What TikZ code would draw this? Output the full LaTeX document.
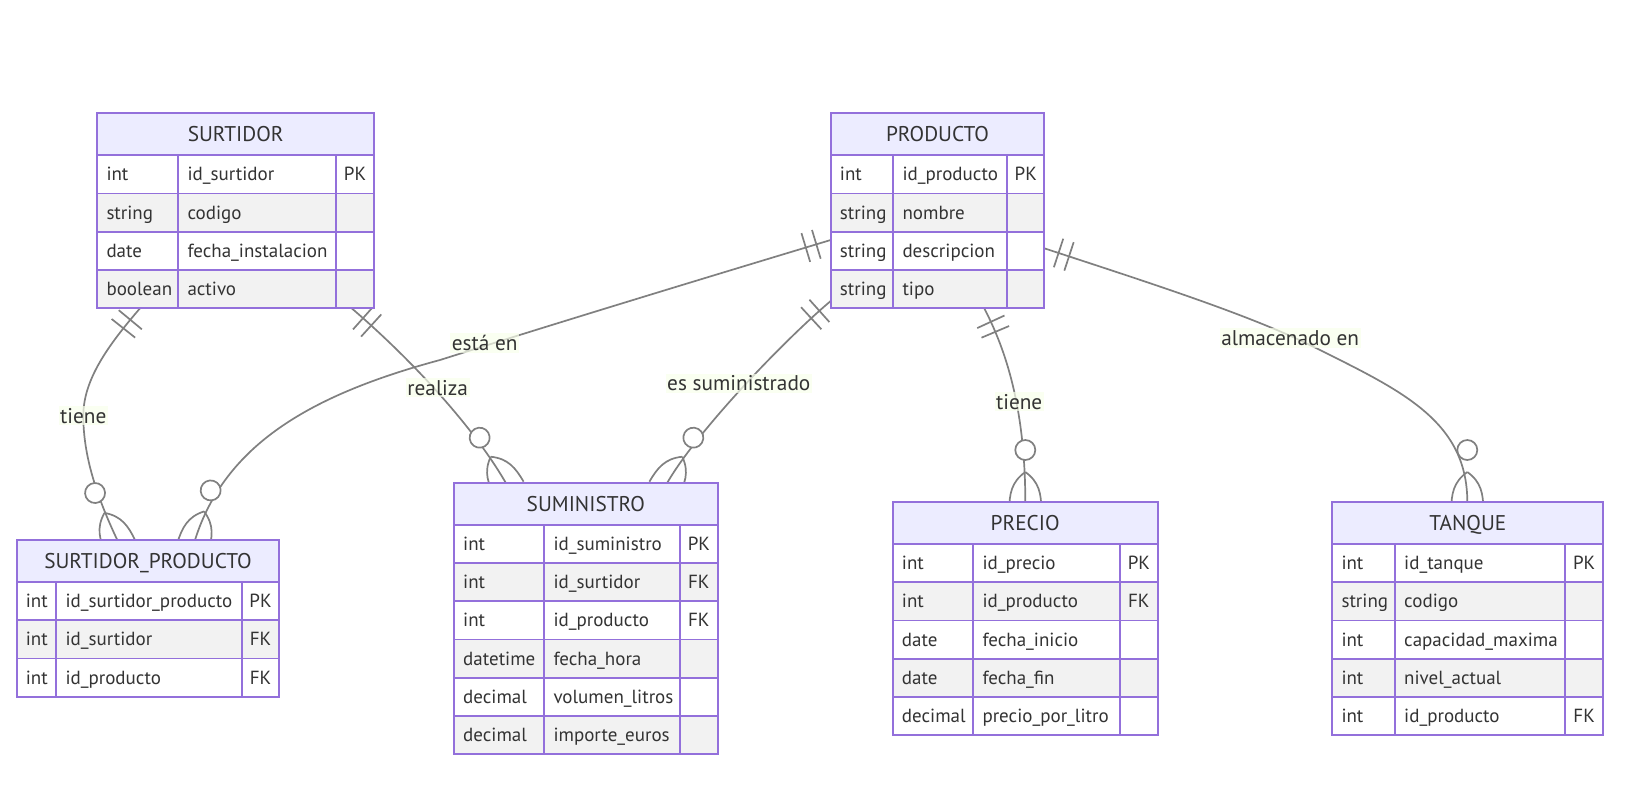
\documentclass[tikz,border=0pt]{standalone}
\usepackage{fontspec}
\setmainfont{PT Sans}
\usetikzlibrary{decorations.markings}

\definecolor{erborder}{HTML}{9370DB}
\definecolor{erhead}{HTML}{ECECFF}
\definecolor{errow}{HTML}{F2F2F2}
\definecolor{ertext}{HTML}{333333}
\definecolor{erline}{HTML}{808080}
\definecolor{erlabel}{RGB}{249,255,236}

\pgfdeclarelayer{bg}
\pgfdeclarelayer{edges}
\pgfsetlayers{bg,edges,main}

\tikzset{
  erfont/.style={font=\fontsize{19}{23}\selectfont, text=ertext},
  bigfont/.style={font=\fontsize{21.3}{25}\selectfont, text=ertext},
  tblbox/.style={draw=erborder, line width=1.8pt, inner sep=0pt, outer sep=0pt},
  tblline/.style={draw=erborder, line width=1.8pt},
  cell/.style={erfont, inner sep=0pt, anchor=base west},
  cellc/.style={erfont, inner sep=0pt, anchor=base},
  ttl/.style={bigfont, inner sep=0pt, anchor=base},
  lbl/.style={bigfont, fill=erlabel, fill opacity=0.7, text opacity=1,
              inner xsep=1.5pt, inner ysep=2pt},
  rel/.style={draw=erline, line width=1.7pt},
  mk/.style={draw=erline, line width=1.7pt},
  % exactly one: two bars near the start of the connector
  onlyone/.style={postaction={decorate, decoration={markings,
      mark=at position 15pt with {\draw[mk] (0pt,-15pt) -- (0pt,15pt);},
      mark=at position 26pt with {\draw[mk] (0pt,-15pt) -- (0pt,15pt);}}}},
  % zero or more: circle and crow's foot at the end of the connector
  zeromany/.style={postaction={decorate, decoration={markings,
      mark=at position 1 with {
        \draw[mk] (-30pt,0pt) .. controls (-20pt,14pt) and (-8pt,16pt) .. (8pt,16pt);
        \draw[mk] (-30pt,0pt) .. controls (-20pt,-14pt) and (-8pt,-16pt) .. (8pt,-16pt);
        \draw[mk, fill=white] (-52pt,0pt) circle[radius=10pt];
      }}}},
}

% entity table: name, x left, x col2, x col3, x right, y top, title, rows
\newcommand{\erentity}[8]{%
  \fill[erhead] (#2,#6) rectangle (#5,#6+42);
  \node[ttl] at (#2/2+#5/2,#6+28.3) {#7};
  \foreach \ta/\tb/\tc [count=\ri] in {#8} {%
    \pgfmathsetmacro\ya{#6+42+(\ri-1)*38.25}%
    \pgfmathsetmacro\yb{\ya+38.25}%
    \ifodd\ri\relax\def\rowcol{white}\else\def\rowcol{errow}\fi
    \fill[fill=\rowcol] (#2,\ya) rectangle (#5,\yb);
    \node[cell] at (#2+9,\ya+25.6) {\ta};
    \node[cell] at (#3+9,\ya+25.6) {\tb};
    \node[cellc] at (#4/2+#5/2,\ya+25.6) {\tc};
    \draw[tblline] (#2,\ya) -- (#5,\ya);
    \xdef\erbottom{\yb}%
  }
  \draw[tblline] (#3,#6+42) -- (#3,\erbottom);
  \draw[tblline] (#4,#6+42) -- (#4,\erbottom);
  \node[tblbox, minimum width={(#5-#2)*1pt}, minimum height={(\erbottom-#6)*1pt},
        anchor=north west] (#1) at (#2,#6) {};
}

\begin{document}
\begin{tikzpicture}[x=1pt, y=-1pt]
\begin{pgfonlayer}{bg}
  \fill[white] (0,0) rectangle (1626,804);
\end{pgfonlayer}
\useasboundingbox (0,0) rectangle (1626,804);

\erentity{surtidor}{97.3}{178.3}{336}{374}{113.3}{SURTIDOR}{%
  int/id\_surtidor/PK, string/codigo/{}, date/fecha\_instalacion/{}, boolean/activo/{}}
\erentity{producto}{830.7}{893.3}{1007.3}{1044.3}{113.3}{PRODUCTO}{%
  int/id\_producto/PK, string/nombre/{}, string/descripcion/{}, string/tipo/{}}
\erentity{surprod}{16.7}{56.3}{241.7}{279.3}{540}{SURTIDOR\_PRODUCTO}{%
  int/id\_surtidor\_producto/PK, int/id\_surtidor/FK, int/id\_producto/FK}
\erentity{suministro}{454}{544.3}{680}{717.7}{482.7}{SUMINISTRO}{%
  int/id\_suministro/PK, int/id\_surtidor/FK, int/id\_producto/FK,
  datetime/fecha\_hora/{}, decimal/volumen\_litros/{}, decimal/importe\_euros/{}}
\erentity{precio}{892.7}{973.3}{1120}{1157.7}{502}{PRECIO}{%
  int/id\_precio/PK, int/id\_producto/FK, date/fecha\_inicio/{},
  date/fecha\_fin/{}, decimal/precio\_por\_litro/{}}
\erentity{tanque}{1332.3}{1395}{1565}{1603.3}{502}{TANQUE}{%
  int/id\_tanque/PK, string/codigo/{}, int/capacidad\_maxima/{},
  int/nivel\_actual/{}, int/id\_producto/FK}

% relationship labels
\node[lbl] (ltiene1) at (83.3,415.8) {tiene};
\node[lbl] (lrealiza) at (437.7,387.7) {realiza};
\node[lbl] (lestaen) at (484.7,343) {está en};
\node[lbl] (lsumin) at (738.8,383.3) {es suministrado};
\node[lbl] (ltiene2) at (1019.2,401.7) {tiene};
\node[lbl] (lalmac) at (1290.2,338) {almacenado en};

\begin{pgfonlayer}{edges}
  % SURTIDOR tiene SURTIDOR_PRODUCTO
  \draw[rel, onlyone, zeromany] ([xshift=42.7pt]surtidor.south west)
    .. controls (107.5,346) and (83.3,380) .. (83.3,415.8)
    .. controls (83.3,455) and (96,495) .. ([xshift=100.6pt]surprod.north west);
  % SURTIDOR realiza SUMINISTRO
  \draw[rel, onlyone, zeromany] ([xshift=254.4pt]surtidor.south west)
    .. controls (404.9,353.8) and (470.7,422.2) .. ([xshift=51.7pt]suministro.north west);
  % PRODUCTO está en SURTIDOR_PRODUCTO
  \draw[rel, onlyone, zeromany] ([yshift=-126.7pt]producto.north west)
    .. controls (700,279.4) and (560,322) .. (440,360)
    .. controls (310,395) and (225,445) .. ([xshift=178.3pt]surprod.north west);
  % PRODUCTO es suministrado SUMINISTRO
  \draw[rel, onlyone, zeromany] ([yshift=-187.7pt]producto.north west)
    .. controls (784.4,340) and (697.3,430.8) .. ([xshift=213.3pt]suministro.north west);
  % PRODUCTO tiene PRECIO
  \draw[rel, onlyone, zeromany] ([xshift=153.6pt]producto.south west)
    .. controls (1002,343) and (1025.3,400) .. ([xshift=132.6pt]precio.north west);
  % PRODUCTO almacenado en TANQUE
  \draw[rel, onlyone, zeromany] ([yshift=-135pt]producto.north east)
    .. controls (1150,283) and (1250,315) .. (1313.3,346.7)
    .. controls (1400,390) and (1467.3,420) .. ([xshift=135pt]tanque.north west);
\end{pgfonlayer}
\end{tikzpicture}
\end{document}
